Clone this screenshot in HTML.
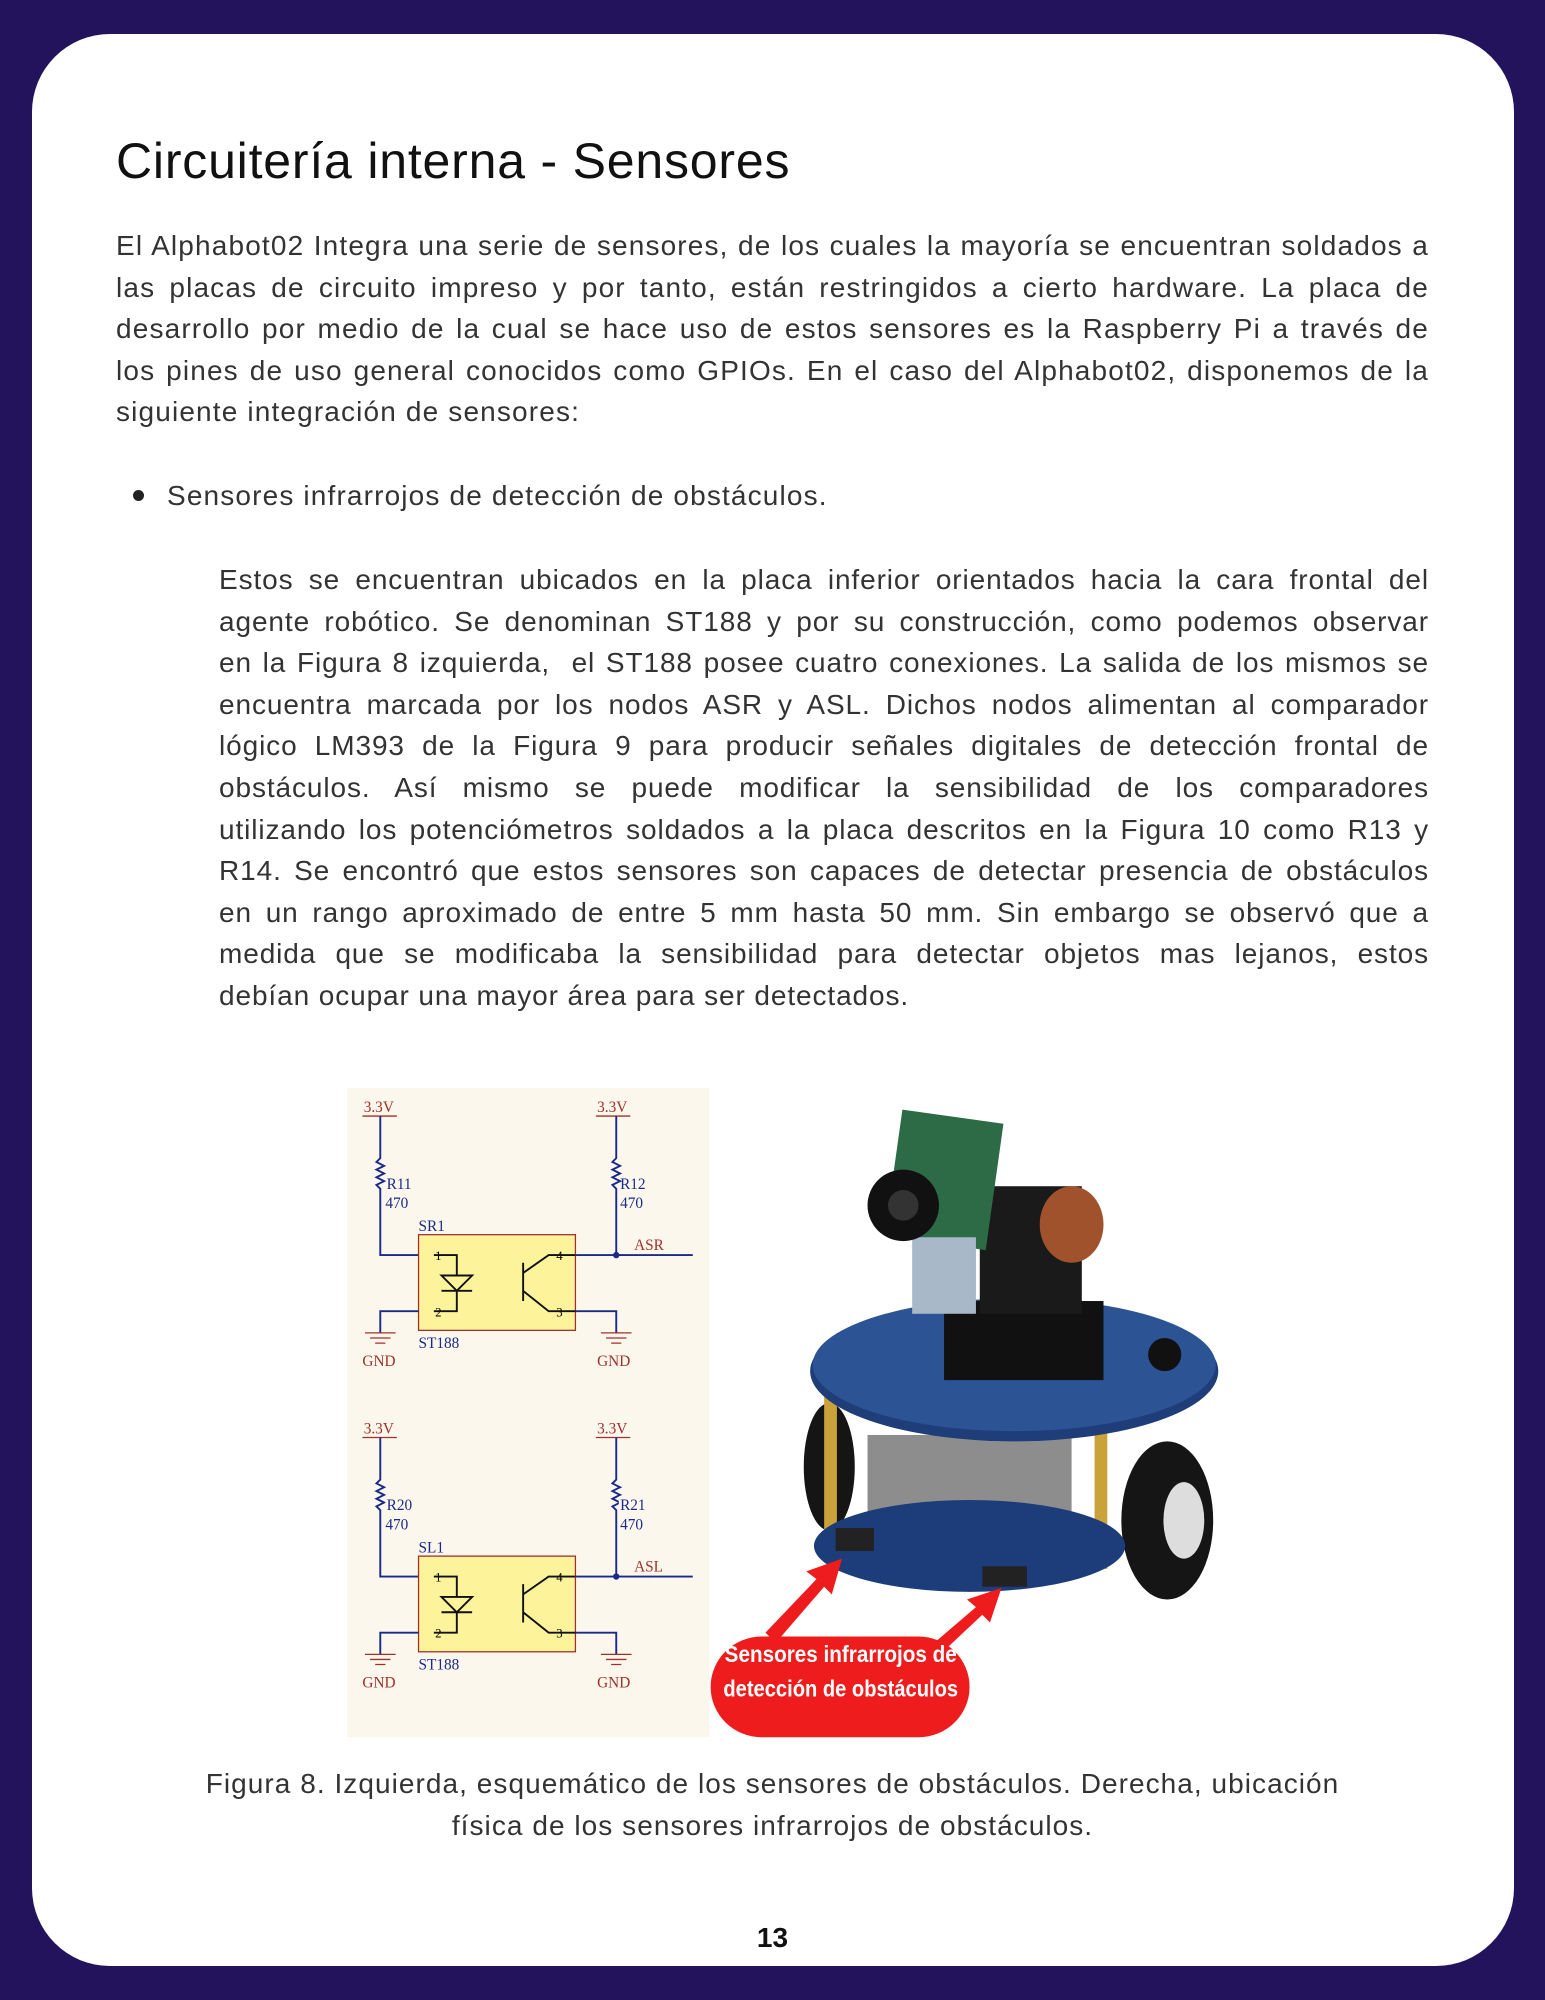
<!DOCTYPE html>
<html><head><meta charset="utf-8">
<style>
html,body{margin:0;padding:0}
body{width:1545px;height:2000px;background:#22135c;position:relative;overflow:hidden;font-family:"Liberation Sans",sans-serif;color:#222}
.card{position:absolute;left:32px;top:34px;width:1482px;height:1932px;background:#fff;border-radius:78px}
h1{position:absolute;left:116px;top:132px;margin:0;font-weight:normal;font-size:50px;color:#111;letter-spacing:0.8px}
.p{position:absolute;font-size:28px;line-height:41.6px;text-align:justify;text-align-last:left;color:#333;margin:0;letter-spacing:1.15px}
.l{display:block;text-align:justify;text-align-last:justify}
.l.last{text-align-last:left}
.bullet{position:absolute;left:133px;top:490px;width:11px;height:11px;border-radius:50%;background:#222}
.cap{position:absolute;left:120px;width:1305px;top:1763px;text-align:center;font-size:28px;line-height:42px;color:#333;letter-spacing:1.05px}
.num{position:absolute;left:0;width:1545px;top:1922px;text-align:center;font-size:28px;font-weight:bold;color:#111}
svg{position:absolute;left:0;top:0}
</style></head><body>
<div class="card"></div>
<h1>Circuitería interna - Sensores</h1>
<p class="p" style="left:116px;top:225px;width:1313px">El Alphabot02 Integra una serie de sensores, de los cuales la mayoría se encuentran soldados a las placas de circuito impreso y por tanto, están restringidos a cierto hardware. La placa de desarrollo por medio de la cual se hace uso de estos sensores es la Raspberry Pi a través de los pines de uso general conocidos como GPIOs. En el caso del Alphabot02, disponemos de la siguiente integración de sensores:</p>
<div class="bullet"></div>
<p class="p" style="left:167px;top:475px;width:1250px">Sensores infrarrojos de detección de obstáculos.</p>
<p class="p" style="left:219px;top:559px;width:1210px;letter-spacing:0.9px">
<span class="l">Estos se encuentran ubicados en la placa inferior orientados hacia la cara frontal del</span>
<span class="l">agente robótico. Se denominan ST188 y por su construcción, como podemos observar</span>
<span class="l">en la Figura 8 izquierda, &nbsp;el ST188 posee cuatro conexiones. La salida de los mismos se</span>
<span class="l">encuentra marcada por los nodos ASR y ASL. Dichos nodos alimentan al comparador</span>
<span class="l">lógico LM393 de la Figura 9 para producir señales digitales de detección frontal de</span>
<span class="l">obstáculos. Así mismo se puede modificar la sensibilidad de los comparadores</span>
<span class="l">utilizando los potenciómetros soldados a la placa descritos en la Figura 10 como R13 y</span>
<span class="l">R14. Se encontró que estos sensores son capaces de detectar presencia de obstáculos</span>
<span class="l">en un rango aproximado de entre 5 mm hasta 50 mm. Sin embargo se observó que a</span>
<span class="l">medida que se modificaba la sensibilidad para detectar objetos mas lejanos, estos</span>
<span class="l last">debían ocupar una mayor área para ser detectados.</span></p>

<svg width="1545" height="2000" viewBox="0 0 1211 1568">
<g>
<rect x="272" y="853" width="284" height="509" fill="#fcf7ec"/>
<g id="ckt" font-family="Liberation Serif,serif" font-size="12">
 <text x="285" y="872" fill="#a0302a">3.3V</text><text x="468" y="872" fill="#a0302a">3.3V</text>
 <line x1="284" y1="875" x2="311" y2="875" stroke="#a0302a"/><line x1="467" y1="875" x2="494" y2="875" stroke="#a0302a"/>
 <path d="M298 875V908l-3 3 6 3-6 3 6 3-6 3 6 3-6 3 3 3V984H328" fill="none" stroke="#1a2a8a" stroke-width="1.5"/>
 <path d="M483 875V908l-3 3 6 3-6 3 6 3-6 3 6 3-6 3 3 3V984" fill="none" stroke="#1a2a8a" stroke-width="1.5"/>
 <line x1="451" y1="984" x2="543" y2="984" stroke="#1a2a8a" stroke-width="1.5"/>
 <circle cx="483" cy="984" r="2.5" fill="#1a2a8a"/>
 <text x="303" y="932" fill="#1a2a8a">R11</text><text x="302" y="947" fill="#1a2a8a">470</text>
 <text x="486" y="932" fill="#1a2a8a">R12</text><text x="486" y="947" fill="#1a2a8a">470</text>
 <text x="328" y="965" fill="#1a2a8a">SR1</text><text x="497" y="980" fill="#a0302a">ASR</text>
 <rect x="328" y="968" width="123" height="75" fill="#fdf39a" stroke="#a0302a"/>
 <path d="M328 1028H298V1045M451 1028H483V1045" fill="none" stroke="#1a2a8a" stroke-width="1.5"/>
 <path d="M286 1045h24M290 1049h16M294 1053h8M471 1045h24M475 1049h16M479 1053h8" stroke="#a0302a"/>
 <text x="284" y="1071" fill="#a0302a">GND</text><text x="468" y="1071" fill="#a0302a">GND</text>
 <text x="328" y="1057" fill="#1a2a8a">ST188</text>
 <text x="341" y="988" font-size="10">1</text><text x="341" y="1032" font-size="10">2</text><text x="436" y="988" font-size="10">4</text><text x="436" y="1032" font-size="10">3</text>
 <path d="M340 984H358V1000M346 1000h24l-12 12zM346 1012h24M358 1012V1028H340M410 990V1020M410 998L430 984H451M410 1012L430 1028H451" fill="none" stroke="#111" stroke-width="1.5"/>
</g>
<use href="#ckt" y="252"/>
</g>
<g font-family="Liberation Serif,serif" font-size="12" fill="#1a2a8a">
<rect x="302" y="1173" width="24" height="14" fill="#fcf7ec"/><text x="303" y="1184">R20</text>
<rect x="485" y="1173" width="24" height="14" fill="#fcf7ec"/><text x="486" y="1184">R21</text>
<rect x="327" y="1206" width="24" height="13" fill="#fcf7ec"/><text x="328" y="1217">SL1</text>
<rect x="496" y="1221" width="28" height="14" fill="#fcf7ec"/><text x="497" y="1232" fill="#a0302a">ASL</text>
</g>
<g>
<ellipse cx="915" cy="1192" rx="36" ry="62" fill="#151515"/>
<ellipse cx="928" cy="1192" rx="16" ry="30" fill="#ddd"/>
<ellipse cx="650" cy="1150" rx="20" ry="50" fill="#151515"/>
<rect x="646" y="1095" width="10" height="130" fill="#c9a23a"/><rect x="858" y="1100" width="10" height="130" fill="#c9a23a"/>
<rect x="680" y="1125" width="160" height="75" fill="#8d8d8d"/>
<ellipse cx="760" cy="1212" rx="122" ry="36" fill="#1d3c7a"/>
<rect x="655" y="1198" width="30" height="18" fill="#222"/><rect x="770" y="1228" width="35" height="16" fill="#222"/>
<ellipse cx="795" cy="1075" rx="160" ry="55" fill="#1f3d78"/>
<ellipse cx="795" cy="1070" rx="158" ry="52" fill="#2c5495"/>
<rect x="740" y="1020" width="125" height="62" fill="#111"/>
<rect x="768" y="930" width="80" height="100" fill="#1a1a1a"/>
<ellipse cx="840" cy="960" rx="25" ry="30" fill="#a0522d"/>
<rect x="700" y="875" width="80" height="100" fill="#2d6b47" transform="rotate(8 740 925)"/>
<rect x="715" y="970" width="50" height="60" fill="#a8b8c8"/>
<circle cx="708" cy="945" r="28" fill="#111"/><circle cx="708" cy="945" r="12" fill="#333"/>
<circle cx="913" cy="1062" r="13" fill="#111"/>
</g>
<g fill="#ee1c1c">
<path d="M600 1280L640 1238 632 1232 660 1222 652 1250 646 1244 608 1288z"/>
<path d="M730 1290L765 1260 758 1254 785 1245 776 1272 770 1266 738 1296z"/>
</g>
<g>
<rect x="557" y="1283" width="203" height="79" rx="40" fill="#ee1c1c"/>
<text x="568" y="1303" textLength="182" lengthAdjust="spacingAndGlyphs" fill="#fff" font-weight="bold" font-size="18" font-family="Liberation Sans Narrow,Liberation Sans,sans-serif">Sensores infrarrojos de</text>
<text x="567" y="1330" textLength="184" lengthAdjust="spacingAndGlyphs" fill="#fff" font-weight="bold" font-size="18" font-family="Liberation Sans Narrow,Liberation Sans,sans-serif">detección de obstáculos</text>
</g>
</svg>
<div class="cap">Figura 8. Izquierda, esquemático de los sensores de obstáculos. Derecha, ubicación<br>física de los sensores infrarrojos de obstáculos.</div>
<div class="num">13</div>
</body></html>
